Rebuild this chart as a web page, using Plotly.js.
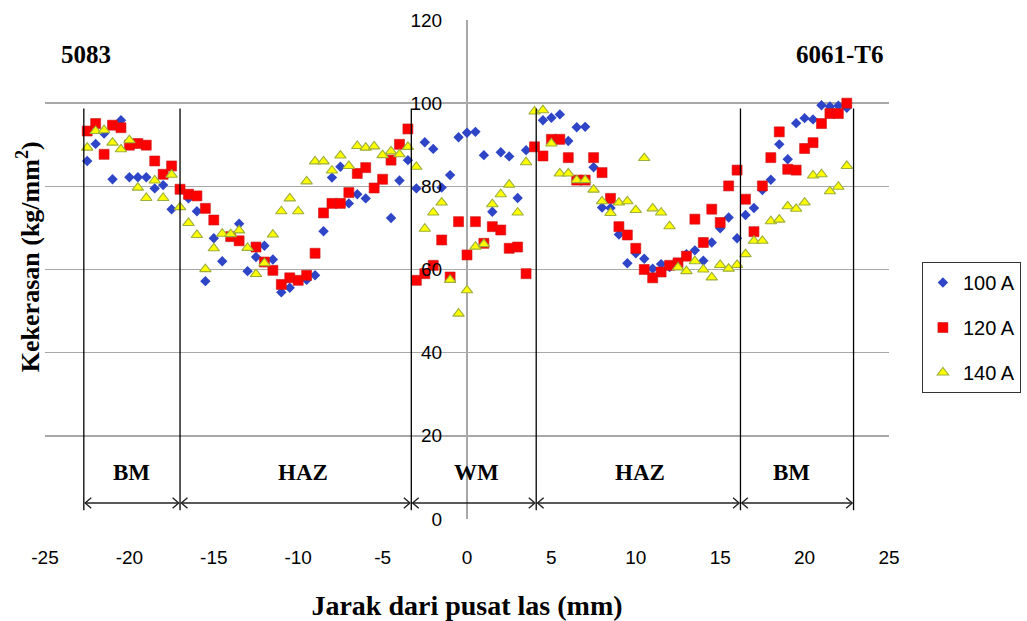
<!DOCTYPE html>
<html>
<head>
<meta charset="utf-8">
<script src="https://cdn.plot.ly/plotly-3.0.1.min.js"></script>
<style>html,body{margin:0;padding:0;background:#fff;}#chart{width:1027px;height:621px;}</style>
</head>
<body>
<div id="chart"></div>
<script>
// ---- data ----
const x100 = [-22.5,-22,-21.5,-21,-20.5,-20,-19.5,-19,-18.5,-18,-17.5,-16.5,-16,-15.5,-15,-14.5,-13.5,-13,-12.5,-12,-11.5,-11,-10.5,-9.5,-9,-8.5,-8,-7.5,-7,-6.5,-6,-4.5,-4,-3.5,-3,-2.5,-2,-1.5,-1,-0.5,0,0.5,1,1.5,2,2.5,3,3.5,4.5,5,5.5,6,6.5,7,7.5,8,8.5,9,9.5,10,10.5,11,11.5,12,13,13.5,14,14.5,15,15.5,16,16.5,17,17.5,18,18.5,19,19.5,20,20.5,21,21.5,22,22.5];
const y100 = [86.1,90.2,92.7,81.7,95.9,82.2,82.2,82.2,79.5,80.3,74.5,77.1,74.0,57.2,67.5,62.0,71.0,59.6,63.0,65.7,62.4,54.5,55.6,57.5,58.6,69.2,82.1,84.7,75.9,78.1,77.1,72.4,81.4,86.3,79.5,90.6,89.0,79.7,82.7,91.8,92.9,93.1,87.5,73.9,88.2,87.2,77.2,88.7,95.9,96.5,97.3,90.9,94.2,94.3,84.6,74.9,74.8,68.4,61.5,63.9,62.6,60.2,61.3,60.6,63.7,64.6,62.1,66.5,69.9,72.5,67.5,73.1,74.8,79.1,81.6,90.1,86.5,95.2,96.4,96.1,99.5,99.2,99.4,98.9];

const x120 = [-22.5,-22,-21.5,-21,-20.5,-20,-19.5,-19,-18.5,-18,-17.5,-17,-16.5,-16,-15.5,-15,-14,-13.5,-12.5,-12,-11.5,-11,-10.5,-10,-9.5,-9,-8.5,-8,-7.5,-7,-6.5,-6,-5.5,-5,-4.5,-4,-3.5,-3,-2.5,-2,-1.5,-1,-0.5,0,0.5,1,1.5,2,2.5,3,3.5,4,4.5,5,5.5,6,6.5,7,7.5,8,8.5,9,9.5,10,10.5,11,11.5,12,12.5,13,13.5,14,14.5,15,15.5,16,16.5,17,17.5,18,18.5,19,19.5,20,20.5,21,21.5,22,22.5];
const y120 = [93.3,95.1,87.7,94.7,94.1,89.9,90.3,89.9,86.1,82.9,84.9,79.3,78.1,77.7,74.7,71.9,67.9,66.9,65.4,61.8,59.8,56.4,58.0,57.4,58.6,63.9,73.6,75.9,75.9,78.5,83.1,84.5,79.6,81.7,86.3,90.1,93.8,57.4,59.0,61.0,67.1,58.2,71.5,63.5,71.5,66.3,70.3,69.5,65.1,65.4,59.0,89.5,87.3,91.3,91.3,86.9,81.5,81.5,86.9,83.3,77.1,70.3,68.3,65.1,60.0,58.0,59.4,61.0,61.6,63.2,72.1,66.5,74.5,71.3,80.1,83.9,76.9,69.1,80.1,86.9,93.1,84.1,83.9,89.1,90.5,95.1,97.5,97.5,100.0];

const x140 = [-22.5,-22,-21.5,-21,-20.5,-20,-19.5,-19,-18.5,-18,-17.5,-17,-16.5,-16,-15.5,-15,-14.5,-14,-13.5,-13,-12.5,-12,-11.5,-11,-10.5,-10,-9.5,-9,-8.5,-8,-7.5,-7,-6.5,-6,-5.5,-5,-4.5,-4,-3.5,-3,-2.5,-2,-1.5,-1,-0.5,0,0.5,1,1.5,2,2.5,3,3.5,4,4.5,5,5.5,6,6.5,7,7.5,8,8.5,9,9.5,10,10.5,11,11.5,12,12.5,13,13.5,14,14.5,15,15.5,16,16.5,17,17.5,18,18.5,19,19.5,20,20.5,21,21.5,22,22.5];
const y140 = [89.3,93.3,93.5,90.5,88.9,91.1,79.7,77.2,81.4,77.2,82.8,75.0,71.2,68.3,60.1,65.1,68.6,68.5,69.4,65.2,58.9,61.5,68.4,74.0,77.1,74.0,81.2,86.0,86.0,83.8,87.4,84.9,89.7,89.3,89.6,87.5,88.4,87.7,89.5,84.7,69.8,73.7,76.1,57.5,49.4,55.0,65.5,66.1,75.7,78.1,80.4,73.7,85.8,98.0,98.3,90.3,83.1,83.1,81.5,81.5,79.2,76.4,73.6,76.1,76.4,74.3,86.8,74.7,73.7,70.4,60.5,59.6,62.0,60.0,58.1,61.1,60.2,61.1,63.7,66.9,66.9,71.6,72.0,75.2,74.6,76.1,82.6,82.9,78.8,79.9,84.9];

const seriesNames = ['100 A', '120 A', '140 A'];
const yTicks = [0, 20, 40, 60, 80, 100, 120];
const xTicks = [-25, -20, -15, -10, -5, 0, 5, 10, 15, 20, 25];
const xTickLabels = ['-25', '-20', '-15', '-10', '-5', '0', '5', '10', '15', '20', '25'];

// zone decoration (weld regions)
const zoneBounds = [-22.7, -17, -3.3, 4.1, 16.2, 22.9];
const zoneLabels = ['BM', 'HAZ', 'WM', 'HAZ', 'BM'];
const zoneLabelX = [-19.9, -9.7, 0.55, 10.25, 19.2];
const alloyLabels = ['5083', '6061-T6'];
const alloyLabelX = [-22.55, 22.1];

const serif = 'Liberation Serif, Times New Roman, serif';
const sans = 'Liberation Sans, Arial, sans-serif';

const traces = [
  {x: x100, y: y100, name: seriesNames[0], type: 'scatter', mode: 'markers', legendgroup: 'a',
   marker: {symbol: 'diamond', size: 8, color: '#2f45c8', line: {width: 0}}},
  {x: x120, y: y120, name: seriesNames[1], type: 'scatter', mode: 'markers', legendgroup: 'b',
   marker: {symbol: 'square', size: 10, color: '#ff0000', line: {width: 0.6, color: '#c81818'}}},
  {x: x140, y: y140, name: seriesNames[2], type: 'scatter', mode: 'markers', legendgroup: 'c',
   marker: {symbol: 'triangle-up', size: 10, color: '#ffff00', line: {width: 1.1, color: '#9cae3c'}}}
];

const shapes = [];
const zTop = 98.7, zBot = 2.1, arrowY = 3.85, hx = 0.36, hy = 1.25, gap = 0.08;
zoneBounds.forEach(b => {
  shapes.push({type: 'line', xref: 'x', yref: 'y', x0: b, x1: b, y0: zBot, y1: zTop,
               line: {color: '#000', width: 1.3}});
});
for (let i = 0; i < zoneBounds.length - 1; i++) {
  const a = zoneBounds[i] + gap, c = zoneBounds[i + 1] - gap;
  shapes.push({type: 'line', xref: 'x', yref: 'y', x0: a, x1: c, y0: arrowY, y1: arrowY,
               line: {color: '#222', width: 1.4}});
  shapes.push({type: 'path', xref: 'x', yref: 'y',
               path: `M${a + hx},${arrowY + hy} L${a},${arrowY} L${a + hx},${arrowY - hy}`,
               line: {color: '#222', width: 1.4}});
  shapes.push({type: 'path', xref: 'x', yref: 'y',
               path: `M${c - hx},${arrowY + hy} L${c},${arrowY} L${c - hx},${arrowY - hy}`,
               line: {color: '#222', width: 1.4}});
}

const annotations = [];
zoneLabels.forEach((t, i) => annotations.push({
  text: '<b>' + t + '</b>', x: zoneLabelX[i], y: 11.3, xref: 'x', yref: 'y', showarrow: false,
  xanchor: 'center', yanchor: 'middle',
  font: {family: serif, size: 23, color: '#000'}
}));
alloyLabels.forEach((t, i) => annotations.push({
  text: '<b>' + t + '</b>', x: alloyLabelX[i], y: 111.8, xref: 'x', yref: 'y', showarrow: false,
  xanchor: 'center', yanchor: 'middle',
  font: {family: serif, size: 25, color: '#000'}
}));
annotations.push({
  text: '<b>Kekerasan (kg/mm<sup>2</sup>)</b>', xref: 'paper', yref: 'paper', x: -0.02, y: 0.525,
  xanchor: 'center', yanchor: 'middle',
  textangle: -90, showarrow: false, font: {family: serif, size: 26, color: '#000'}
});

const layout = {
  width: 1027, height: 621,
  margin: {l: 45, r: 138, t: 20, b: 102, autoexpand: false},
  paper_bgcolor: '#fff', plot_bgcolor: '#fff',
  showlegend: true,
  legend: {x: 1.039, y: 0.515, xanchor: 'left', yanchor: 'top', bgcolor: '#fff',
           bordercolor: '#333', borderwidth: 1, traceorder: 'grouped', tracegroupgap: 16,
           itemwidth: 30, font: {family: sans, size: 20, color: '#000'}},
  xaxis: {range: [-25, 25], tickvals: xTicks, ticktext: xTickLabels, showgrid: false, showline: false,
          zeroline: true, zerolinecolor: '#a8a8a8', zerolinewidth: 1.5,
          ticks: 'outside', ticklen: 21, tickcolor: 'rgba(0,0,0,0)',
          tickfont: {family: sans, size: 19, color: '#000'},
          title: {text: '<b>Jarak dari pusat las (mm)</b>', standoff: 28,
                  font: {family: serif, size: 28, color: '#000'}}},
  yaxis: {range: [0, 120], tickvals: yTicks, anchor: 'free', position: 0.5, side: 'left',
          showgrid: true, gridcolor: '#a8a8a8', gridwidth: 1.5, zeroline: false, showline: false,
          ticks: 'outside', ticklen: 21, tickcolor: 'rgba(0,0,0,0)',
          tickfont: {family: sans, size: 19, color: '#000'}},
  shapes: shapes,
  annotations: annotations
};

Plotly.newPlot('chart', traces, layout, {displayModeBar: false, staticPlot: true});
</script>
</body>
</html>
